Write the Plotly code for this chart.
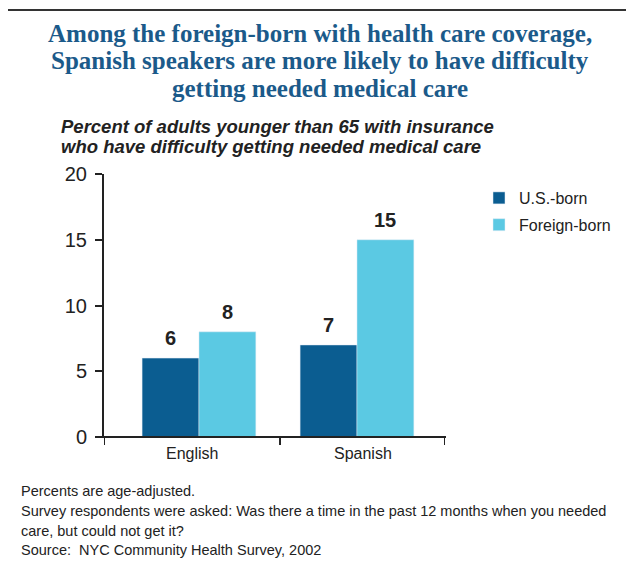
import plotly.graph_objects as go

# ---- data ----
categories = ["English", "Spanish"]
us_born = [6, 7]
foreign_born = [8, 15]
series_names = ["U.S.-born", "Foreign-born"]
y_ticks = [0, 5, 10, 15, 20]

title_lines = [
    "Among the foreign-born with health care coverage,",
    "Spanish speakers are more likely to have difficulty",
    "getting needed medical care",
]
subtitle_lines = [
    "Percent of adults younger than 65 with insurance",
    "who have difficulty getting needed medical care",
]
footnote_lines = [
    "Percents are age-adjusted.",
    "Survey respondents were asked: Was there a time in the past 12 months when you needed",
    "care, but could not get it?",
    "Source:  NYC Community Health Survey, 2002",
]

# ---- style ----
OFF = 8  # page body margin
W, H = 634 - OFF, 563 - OFF
L, R, T, B = 104 - OFF, 445 - OFF, 174 - OFF, 437 - OFF
US_COLOR = "#0b5d91"
FB_COLOR = "#5bc9e3"
TEXT = "#222222"
TITLE_COLOR = "#1b5a8a"
X0, X1 = -0.601, 1.557
MID = 0.513
BW = 0.36
SANS = "Liberation Sans, Arial"

def px(xp):
    return (xp - OFF - L) / (R - L)

def py(yp):
    return (B - (yp - OFF)) / (B - T)

xs = list(range(len(categories)))

fig = go.Figure()
fig.add_trace(go.Bar(x=xs, y=us_born, name=series_names[0], marker_color=US_COLOR,
                     width=BW, offset=-BW, legendgroup="a"))
fig.add_trace(go.Bar(x=xs, y=foreign_born, name=series_names[1], marker_color=FB_COLOR,
                     width=BW, offset=0, legendgroup="b"))

ann = []
# value labels
for i in xs:
    ann.append(dict(x=i - BW / 2, y=us_born[i], xref="x", yref="y", text=f"<b>{us_born[i]}</b>",
                    showarrow=False, yanchor="bottom", yshift=7,
                    font=dict(family=SANS, size=20, color=TEXT)))
    ann.append(dict(x=i + BW / 2, y=foreign_born[i], xref="x", yref="y", text=f"<b>{foreign_born[i]}</b>",
                    showarrow=False, yanchor="bottom", yshift=7,
                    font=dict(family=SANS, size=20, color=TEXT)))

# category labels centred between ticks
edges = [X0, MID, X1]
for i, c in enumerate(categories):
    ann.append(dict(x=(edges[i] + edges[i + 1]) / 2, y=0, xref="x", yref="y", text=c,
                    showarrow=False, yanchor="middle", yshift=-16,
                    font=dict(family=SANS, size=16, color=TEXT)))

# title
for line, yc in zip(title_lines, [33, 60, 88]):
    ann.append(dict(x=px(320), y=py(yc), xref="paper", yref="paper", text=f"<b>{line}</b>",
                    showarrow=False, xanchor="center", yanchor="middle",
                    font=dict(family="Liberation Serif, Times New Roman, serif", size=25, color=TITLE_COLOR)))
# subtitle
for line, yc in zip(subtitle_lines, [127, 146]):
    ann.append(dict(x=px(59), y=py(yc), xref="paper", yref="paper", text=f"<b><i>{line}</i></b>",
                    showarrow=False, xanchor="left", yanchor="middle",
                    font=dict(family=SANS, size=18.5, color=TEXT)))
# footnotes
for line, yc in zip(footnote_lines, [491, 511, 531, 550]):
    ann.append(dict(x=px(19), y=py(yc), xref="paper", yref="paper", text=line,
                    showarrow=False, xanchor="left", yanchor="middle",
                    font=dict(family=SANS, size=14.5, color=TEXT)))

shapes = []
# frame
shapes.append(dict(type="line", xref="paper", yref="paper", x0=px(7), y0=py(575), x1=px(7), y1=py(10),
                   line=dict(color="#333333", width=2)))
shapes.append(dict(type="line", xref="paper", yref="paper", x0=px(6), y0=py(10), x1=px(645), y1=py(10),
                   line=dict(color="#333333", width=2)))
# x axis ticks
for xv in [X0, MID, X1]:
    shapes.append(dict(type="line", xref="x", yref="paper", x0=xv, x1=xv, y0=0, y1=py(445),
                       line=dict(color=TEXT, width=2)))
# x axis line (from left tick end)
shapes.append(dict(type="line", xref="paper", yref="paper", x0=px(97), x1=px(446), y0=0, y1=0,
                   line=dict(color=TEXT, width=2)))

fig.update_layout(
    width=W, height=H,
    margin=dict(l=L, r=W - R, t=T, b=H - B),
    paper_bgcolor="white", plot_bgcolor="white",
    barmode="overlay",
    showlegend=True,
    legend=dict(x=px(479), y=py(181), xanchor="left", yanchor="top",
                font=dict(family=SANS, size=16, color=TEXT),
                tracegroupgap=3, traceorder="grouped", bgcolor="rgba(0,0,0,0)"),
    xaxis=dict(range=[X0, X1], showticklabels=False, showgrid=False, zeroline=False,
               showline=False, ticks=""),
    yaxis=dict(range=[0, 20], tickvals=y_ticks, showgrid=False, zeroline=False,
               showline=True, linecolor=TEXT, linewidth=2, ticks="outside", ticklen=7,
               tickwidth=2, tickcolor=TEXT, ticklabelstandoff=4,
               tickfont=dict(family=SANS, size=20, color=TEXT)),
    annotations=ann,
    shapes=shapes,
)

fig.write_html("out.html")
